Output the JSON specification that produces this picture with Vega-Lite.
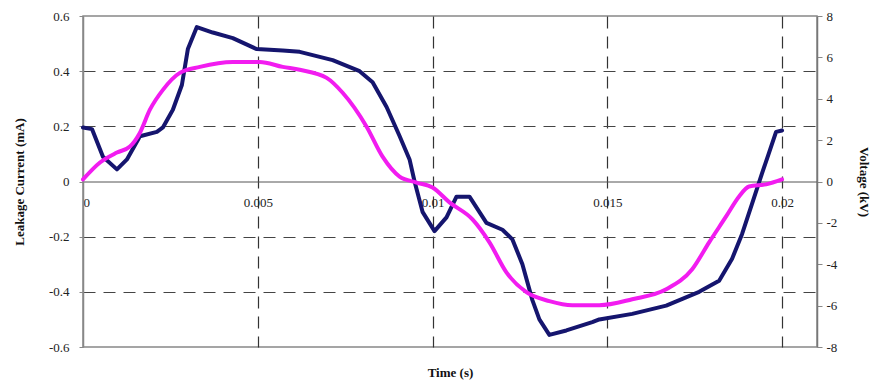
{
  "$schema": "https://vega.github.io/schema/vega-lite/v6.json",
  "width": 734,
  "height": 331,
  "autosize": "none",
  "padding": {"left": 83, "top": 16, "right": 55, "bottom": 34},
  "background": "white",
  "config": {
    "view": {"stroke": "#888888", "strokeWidth": 1.5},
    "font": "Liberation Serif, DejaVu Serif, serif",
    "axis": {"labelFont": "Liberation Serif, DejaVu Serif, serif", "titleFont": "Liberation Serif, DejaVu Serif, serif", "labelFontSize": 13, "labelColor": "#222222", "titleFontSize": 13, "titleFontWeight": "bold", "titleColor": "#111111"}
  },
  "datasets": {
    "current": [
      {"t": 0, "i": 0.196}, {"t": 0.000257, "i": 0.19}, {"t": 0.000571, "i": 0.09}, {"t": 0.000971, "i": 0.044},
      {"t": 0.001257, "i": 0.08}, {"t": 0.001629, "i": 0.164}, {"t": 0.002114, "i": 0.18}, {"t": 0.002286, "i": 0.196},
      {"t": 0.002571, "i": 0.26}, {"t": 0.002829, "i": 0.35}, {"t": 0.003, "i": 0.48}, {"t": 0.003257, "i": 0.56},
      {"t": 0.003714, "i": 0.54}, {"t": 0.004286, "i": 0.52}, {"t": 0.004971, "i": 0.48}, {"t": 0.005714, "i": 0.475},
      {"t": 0.0062, "i": 0.47}, {"t": 0.007143, "i": 0.44}, {"t": 0.007914, "i": 0.4}, {"t": 0.008286, "i": 0.36},
      {"t": 0.008686, "i": 0.27}, {"t": 0.009057, "i": 0.165}, {"t": 0.009343, "i": 0.08}, {"t": 0.009486, "i": 0.0},
      {"t": 0.009714, "i": -0.11}, {"t": 0.010057, "i": -0.18}, {"t": 0.0104, "i": -0.13}, {"t": 0.010686, "i": -0.055},
      {"t": 0.011057, "i": -0.055}, {"t": 0.011543, "i": -0.15}, {"t": 0.012, "i": -0.175}, {"t": 0.012286, "i": -0.21},
      {"t": 0.012571, "i": -0.3}, {"t": 0.012857, "i": -0.43}, {"t": 0.013057, "i": -0.5}, {"t": 0.013343, "i": -0.556},
      {"t": 0.013829, "i": -0.54}, {"t": 0.014571, "i": -0.51}, {"t": 0.014771, "i": -0.5}, {"t": 0.015714, "i": -0.48},
      {"t": 0.016686, "i": -0.45}, {"t": 0.017629, "i": -0.4}, {"t": 0.0182, "i": -0.36}, {"t": 0.018571, "i": -0.28},
      {"t": 0.018857, "i": -0.19}, {"t": 0.019143, "i": -0.08}, {"t": 0.019429, "i": 0.03}, {"t": 0.019629, "i": 0.105},
      {"t": 0.019829, "i": 0.18}, {"t": 0.02, "i": 0.185}
    ],
    "voltage": [
      {"t": 0, "v": 0.1}, {"t": 0.000486, "v": 0.92}, {"t": 0.000971, "v": 1.4}, {"t": 0.001343, "v": 1.69},
      {"t": 0.001629, "v": 2.36}, {"t": 0.001914, "v": 3.47}, {"t": 0.002286, "v": 4.43}, {"t": 0.002771, "v": 5.25},
      {"t": 0.003343, "v": 5.54}, {"t": 0.004286, "v": 5.78}, {"t": 0.005057, "v": 5.78}, {"t": 0.005714, "v": 5.54},
      {"t": 0.0062, "v": 5.4}, {"t": 0.006971, "v": 5.01}, {"t": 0.007429, "v": 4.29}, {"t": 0.008114, "v": 2.65},
      {"t": 0.008571, "v": 1.2}, {"t": 0.009057, "v": 0.24}, {"t": 0.009543, "v": -0.05}, {"t": 0.01, "v": -0.29},
      {"t": 0.010486, "v": -1.01}, {"t": 0.011143, "v": -1.83}, {"t": 0.011629, "v": -2.94}, {"t": 0.012114, "v": -4.39},
      {"t": 0.012686, "v": -5.35}, {"t": 0.013343, "v": -5.78}, {"t": 0.014, "v": -5.98}, {"t": 0.014771, "v": -5.98},
      {"t": 0.015714, "v": -5.69}, {"t": 0.016686, "v": -5.21}, {"t": 0.017429, "v": -4.24}, {"t": 0.017914, "v": -2.94},
      {"t": 0.0184, "v": -1.69}, {"t": 0.018771, "v": -0.72}, {"t": 0.019057, "v": -0.24}, {"t": 0.019543, "v": -0.14},
      {"t": 0.02, "v": 0.1}
    ]
  },
  "layer": [
    {
      "data": {"name": "current"},
      "mark": {"type": "line", "color": "#15156e", "strokeWidth": 4, "strokeJoin": "round", "strokeCap": "round"},
      "encoding": {
        "x": {
          "field": "t", "type": "quantitative",
          "scale": {"domain": [0, 0.021], "nice": false, "zero": false},
          "axis": {
            "title": "Time (s)", "titleY": 191, "titleBaseline": "middle",
            "titleFont": "Liberation Serif", "labelFont": "Liberation Serif", "labelFontSize": 13,
            "values": [0, 0.005, 0.01, 0.015, 0.02],
            "labelExpr": "toString(datum.value)",
            "offset": -165.5,
            "domainColor": "#555555", "domainWidth": 1,
            "ticks": false, "labelPadding": 15,
            "grid": true, "gridDash": [12, 8], "gridColor": "#333333", "gridWidth": 1.2,
            "gridOpacity": {"condition": {"test": "datum.value == 0", "value": 0}, "value": 1}
          }
        },
        "y": {
          "field": "i", "type": "quantitative",
          "scale": {"domain": [-0.6, 0.6], "nice": false},
          "axis": {
            "title": "Leakage Current (mA)",
            "titleFont": "Liberation Serif", "labelFont": "Liberation Serif", "labelFontSize": 13,
            "values": [-0.6, -0.4, -0.2, 0, 0.2, 0.4, 0.6],
            "labelExpr": "toString(datum.value)",
            "domainColor": "#888888", "domainWidth": 1.5,
            "tickColor": "#888888", "tickSize": 4, "labelPadding": 10, "titlePadding": 22,
            "grid": true, "gridDash": [12, 8], "gridColor": "#444444", "gridWidth": 1,
            "gridOpacity": {"condition": {"test": "datum.value == 0 || abs(datum.value) > 0.5", "value": 0}, "value": 1}
          }
        }
      }
    },
    {
      "data": {"name": "voltage"},
      "mark": {"type": "line", "color": "#f21cf0", "strokeWidth": 4, "strokeJoin": "round", "strokeCap": "round", "interpolate": "monotone"},
      "encoding": {
        "x": {"field": "t", "type": "quantitative"},
        "y": {
          "field": "v", "type": "quantitative",
          "scale": {"domain": [-8, 8], "nice": false},
          "axis": {
            "orient": "right", "title": "Voltage (kV)",
            "titleFont": "Liberation Serif", "labelFont": "Liberation Serif", "labelFontSize": 13,
            "values": [-8, -6, -4, -2, 0, 2, 4, 6, 8],
            "labelExpr": "toString(datum.value)",
            "domainColor": "#777777", "domainWidth": 1.5,
            "tickColor": "#888888", "tickSize": 5, "labelPadding": 4, "titlePadding": 20,
            "grid": false
          }
        }
      }
    }
  ],
  "resolve": {"scale": {"y": "independent"}}
}
